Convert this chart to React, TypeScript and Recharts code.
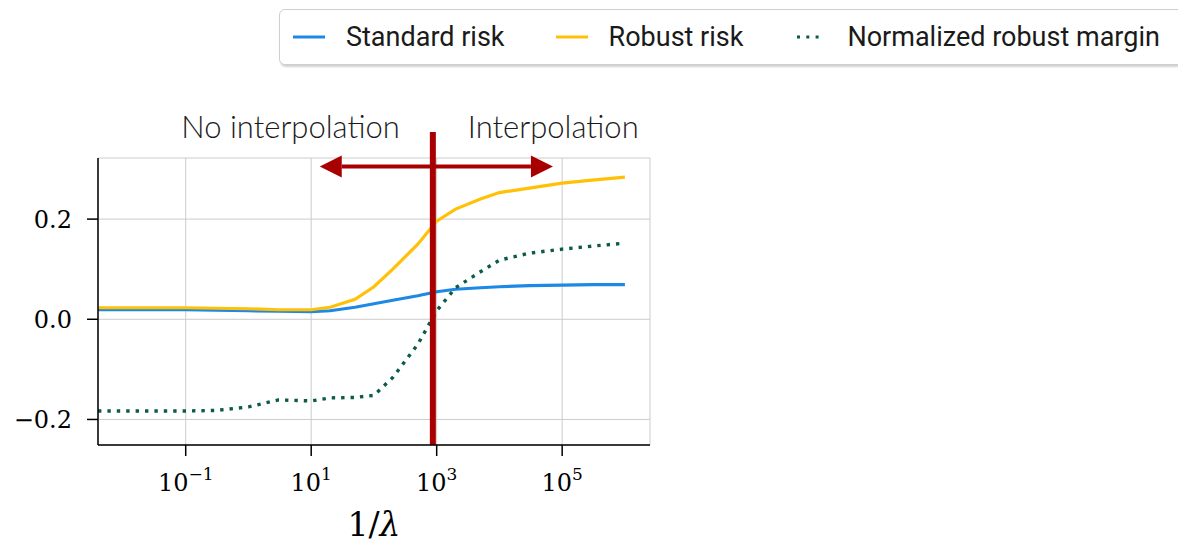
import React from "react"
import {
  LineChart,
  Line,
  XAxis,
  YAxis,
  CartesianGrid,
  ReferenceLine,
  Legend,
} from "recharts"

// 1/lambda values (log-spaced)
const invLambda = [
  0.004, 0.01, 0.03, 0.1, 0.3, 1, 3, 10, 20, 50, 100, 200, 500, 1000, 2000,
  5000, 10000, 30000, 100000, 300000, 1000000,
]
const standardRisk = [
  0.019, 0.019, 0.019, 0.019, 0.018, 0.017, 0.016, 0.015, 0.017, 0.024, 0.031,
  0.038, 0.047, 0.055, 0.06, 0.063, 0.065, 0.067, 0.068, 0.069, 0.069,
]
const robustRisk = [
  0.023, 0.023, 0.023, 0.023, 0.022, 0.021, 0.019, 0.019, 0.024, 0.04, 0.065,
  0.1, 0.15, 0.196, 0.22, 0.24, 0.253, 0.262, 0.272, 0.278, 0.284,
]
const robustMargin = [
  -0.183, -0.183, -0.183, -0.183, -0.182, -0.175, -0.161, -0.163, -0.157,
  -0.156, -0.152, -0.116, -0.05, 0.017, 0.063, 0.095, 0.118, 0.132, 0.14,
  0.146, 0.152,
]
const xTicks = [0.1, 10, 1000, 100000]
const yTicks = [-0.2, 0, 0.2]

const seriesNames = ["Standard risk", "Robust risk", "Normalized robust margin"]
const colors = ["#1e88e5", "#ffc107", "#0b5a4a"]
const RED = "#a80000"

const splitX = 869
const arrowY = 0.305
const arrowLeftTip = 13.7
const arrowRightTip = 71300

const data = invLambda.map((x, i) => ({
  x,
  standard: standardRisk[i],
  robust: robustRisk[i],
  margin: robustMargin[i],
}))

const supMap: Record<string, string> = { "-1": "\u22121", "1": "1", "3": "3", "5": "5" }

const XTick = (props: any) => {
  const { x, y, payload } = props
  const exp = String(Math.round(Math.log10(payload.value)))
  return (
    <text
      x={x}
      y={y}
      dy={33}
      textAnchor="middle"
      fontFamily="'DejaVu Serif', serif"
      fontSize={24}
      fill="#000"
    >
      10
      <tspan dy={-11} fontSize={17}>
        {supMap[exp] ?? exp}
      </tspan>
    </text>
  )
}

const YTick = (props: any) => {
  const { x, y, payload } = props
  const v = payload.value
  const label = (v < 0 ? "\u2212" : "") + Math.abs(v).toFixed(1)
  return (
    <text
      x={x - 13}
      y={y}
      dy={9}
      textAnchor="end"
      fontFamily="'DejaVu Serif', serif"
      fontSize={24}
      fill="#000"
    >
      {label}
    </text>
  )
}

const XLabel = (props: any) => {
  const { viewBox } = props
  const cx = viewBox.x + viewBox.width / 2
  return (
    <text
      x={cx}
      y={viewBox.y + 91}
      textAnchor="middle"
      fontFamily="'DejaVu Serif', serif"
      fontSize={33}
      fill="#000"
    >
      1/<tspan fontStyle="italic">λ</tspan>
    </text>
  )
}

const SplitLine = (p: any) => {
  const top = Math.min(p.y1, p.y2)
  const bottom = Math.max(p.y1, p.y2)
  const txt = {
    fontFamily: "Lato, 'Open Sans', sans-serif",
    fontSize: 31,
    fontWeight: 300,
    fill: "#1a1a1a",
  }
  return (
    <g>
      <line x1={p.x1} y1={top - 26} x2={p.x2} y2={bottom} stroke={RED} strokeWidth={6} />
      <text x={p.x1 - 33} y={top - 20} textAnchor="end" {...txt}>
        No interpolation
      </text>
      <text x={p.x1 + 35} y={top - 20} textAnchor="start" {...txt}>
        Interpolation
      </text>
    </g>
  )
}

const Arrow = (p: any) => {
  const { x1, y1, x2 } = p
  const dir = x2 > x1 ? 1 : -1
  const head = 22
  const base = x2 - dir * head
  return (
    <g>
      <line x1={x1} y1={y1} x2={base} y2={y1} stroke={RED} strokeWidth={4} />
      <polygon
        points={`${x2},${y1} ${base},${y1 - 11} ${base},${y1 + 11}`}
        fill={RED}
      />
    </g>
  )
}

const LegendBox = () => (
  <div
    style={{
      boxSizing: "border-box",
      height: 56,
      width: 960,
      border: "1.5px solid #cfcfcf",
      borderRadius: 6,
      background: "#fff",
      boxShadow: "1px 2px 2px rgba(0,0,0,0.18)",
      display: "flex",
      alignItems: "center",
      paddingLeft: 12,
      fontFamily: "Roboto, sans-serif",
      fontSize: 27,
      color: "#1a1a1a",
      whiteSpace: "nowrap",
    }}
  >
    {seriesNames.map((name, i) => (
      <div key={name} style={{ display: "flex", alignItems: "center", marginRight: 50 }}>
        <svg width={34} height={10} style={{ marginRight: 20 }}>
          {i < 2 ? (
            <line x1={1} y1={5} x2={33} y2={5} stroke={colors[i]} strokeWidth={3} />
          ) : (
            <line
              x1={4}
              y1={5}
              x2={30}
              y2={5}
              stroke={colors[i]}
              strokeWidth={3}
              strokeDasharray="3 6.3"
            />
          )}
        </svg>
        <span>{name}</span>
      </div>
    ))}
  </div>
)

export default function App() {
  return (
    <div
      style={{
        position: "absolute",
        left: 0,
        top: 0,
        width: 1178,
        height: 544,
        overflow: "hidden",
        background: "#fff",
      }}
    >
      <LineChart
        width={1178}
        height={544}
        data={data}
        margin={{ top: 158, right: 528, bottom: 39, left: 38 }}
      >
        <CartesianGrid stroke="#cccccc" strokeWidth={1} />
        <XAxis
          dataKey="x"
          type="number"
          scale="log"
          domain={[0.004, 2511886]}
          allowDataOverflow
          ticks={xTicks}
          tick={<XTick />}
          tickSize={11}
          height={60}
          axisLine={{ stroke: "#000", strokeWidth: 1.5 }}
          tickLine={{ stroke: "#000", strokeWidth: 1.5 }}
          label={<XLabel />}
        />
        <YAxis
          type="number"
          domain={[-0.251, 0.322]}
          allowDataOverflow
          ticks={yTicks}
          tick={<YTick />}
          tickSize={11}
          width={60}
          axisLine={{ stroke: "#000", strokeWidth: 1.5 }}
          tickLine={{ stroke: "#000", strokeWidth: 1.5 }}
        />
        <Legend
          layout="horizontal"
          verticalAlign="middle"
          align="center"
          content={<LegendBox />}
          wrapperStyle={{ position: "absolute", left: 279, top: 9, width: 960, height: 56 }}
        />
        <Line
          dataKey="standard"
          name={seriesNames[0]}
          stroke={colors[0]}
          strokeWidth={3.2}
          dot={false}
          isAnimationActive={false}
        />
        <Line
          dataKey="robust"
          name={seriesNames[1]}
          stroke={colors[1]}
          strokeWidth={3.2}
          dot={false}
          isAnimationActive={false}
        />
        <Line
          dataKey="margin"
          name={seriesNames[2]}
          stroke={colors[2]}
          strokeWidth={3.4}
          strokeDasharray="3.4 6"
          dot={false}
          isAnimationActive={false}
        />
        <ReferenceLine
          segment={[
            { x: splitX, y: arrowY },
            { x: arrowLeftTip, y: arrowY },
          ]}
          shape={<Arrow />}
        />
        <ReferenceLine
          segment={[
            { x: splitX, y: arrowY },
            { x: arrowRightTip, y: arrowY },
          ]}
          shape={<Arrow />}
        />
        <ReferenceLine x={splitX} shape={<SplitLine />} />
      </LineChart>
    </div>
  )
}
